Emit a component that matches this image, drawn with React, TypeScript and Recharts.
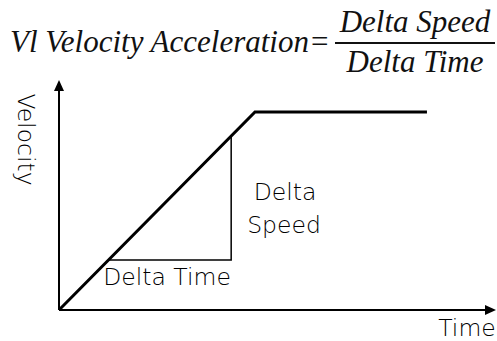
import React from 'react';
import { LineChart, Line, XAxis, YAxis, ReferenceDot, ReferenceLine } from 'recharts';

// Velocity profile (time, velocity) in arbitrary units 0..100
const timeValues = [0, 44.85, 84.2];
const velocityValues = [0, 86.1, 86.1];
// Delta triangle (time, velocity)
const triangleTime = [11.2, 39.4, 39.4];
const triangleVelocity = [21.7, 21.7, 75.7];
// Axis extents
const timeDomain = [0, 100];
const velocityDomain = [0, 100];
// Text
const titleLeft = 'Vl Velocity Acceleration=';
const titleNumerator = 'Delta Speed';
const titleDenominator = 'Delta Time';
const xAxisLabel = 'Time';
const yAxisLabel = 'Velocity';
const deltaTimeLabel = 'Delta Time';
const deltaSpeedLines = ['Delta', 'Speed'];

const velocityData = timeValues.map((t, i) => ({ t, v: velocityValues[i] }));
const triangleData = triangleTime.map((t, i) => ({ t, v: triangleVelocity[i] }));

const SANS = '"DejaVu Sans", sans-serif';
const SERIF = '"Liberation Serif", "Times New Roman", serif';
const SANS_SIZE = 23.5;

const RightArrow = (p: any) => (
  <path d={`M${p.cx},${p.cy} L${p.cx - 11},${p.cy - 5} L${p.cx - 11},${p.cy + 5} Z`} fill="#000" stroke="none" />
);
const UpArrow = (p: any) => (
  <path d={`M${p.cx},${p.cy} L${p.cx - 5},${p.cy + 11} L${p.cx + 5},${p.cy + 11} Z`} fill="#000" stroke="none" />
);

export default function App() {
  return (
    <div style={{ position: 'absolute', left: 0, top: 0, width: 497, height: 341, background: '#fff' }}>
      <LineChart
        width={497}
        height={341}
        margin={{ top: 80, right: 1, bottom: 31, left: 59 }}
      >
        <XAxis dataKey="t" type="number" domain={timeDomain} hide />
        <YAxis dataKey="v" type="number" domain={velocityDomain} hide />
        <ReferenceLine
          segment={[{ x: timeDomain[0], y: velocityDomain[0] }, { x: timeDomain[1] - 2, y: velocityDomain[0] }]}
          stroke="#000"
          strokeWidth={2}
          ifOverflow="visible"
        />
        <ReferenceLine
          segment={[{ x: timeDomain[0], y: velocityDomain[0] }, { x: timeDomain[0], y: velocityDomain[1] - 4 }]}
          stroke="#000"
          strokeWidth={2}
          ifOverflow="visible"
        />
        <Line
          data={triangleData}
          dataKey="v"
          stroke="#000"
          strokeWidth={1.5}
          dot={false}
          isAnimationActive={false}
          strokeLinejoin="miter"
        />
        <Line
          data={velocityData}
          dataKey="v"
          stroke="#000"
          strokeWidth={3}
          dot={false}
          isAnimationActive={false}
          strokeLinejoin="miter"
        />
        <ReferenceDot x={timeDomain[1]} y={velocityDomain[0]} ifOverflow="visible" shape={RightArrow} />
        <ReferenceDot x={timeDomain[0]} y={velocityDomain[1]} ifOverflow="visible" shape={UpArrow} />

        <text x={10} y={52} fontFamily={SERIF} fontStyle="italic" fontSize={31} fill="#111">
          {titleLeft}
        </text>
        <text x={415} y={32} textAnchor="middle" fontFamily={SERIF} fontStyle="italic" fontSize={31} fill="#111">
          {titleNumerator}
        </text>
        <line x1={335} y1={43} x2={495} y2={43} stroke="#111" strokeWidth={2} />
        <text x={415} y={72} textAnchor="middle" fontFamily={SERIF} fontStyle="italic" fontSize={31} fill="#111">
          {titleDenominator}
        </text>

        <text x={18} y={139.5} textAnchor="middle" transform="rotate(90, 18, 139.5)" fontFamily={SANS} fontWeight={300} fontSize={SANS_SIZE} fill="#000">
          {yAxisLabel}
        </text>
        <text x={467} y={336} textAnchor="middle" fontFamily={SANS} fontWeight={300} fontSize={SANS_SIZE} fill="#000">
          {xAxisLabel}
        </text>
        <text x={167} y={285} textAnchor="middle" fontFamily={SANS} fontWeight={300} fontSize={SANS_SIZE} fill="#000">
          {deltaTimeLabel}
        </text>
        <text x={285} y={200} textAnchor="middle" fontFamily={SANS} fontWeight={300} fontSize={SANS_SIZE} fill="#000">
          {deltaSpeedLines[0]}
        </text>
        <text x={284} y={233} textAnchor="middle" fontFamily={SANS} fontWeight={300} fontSize={SANS_SIZE} fill="#000">
          {deltaSpeedLines[1]}
        </text>
      </LineChart>
    </div>
  );
}
